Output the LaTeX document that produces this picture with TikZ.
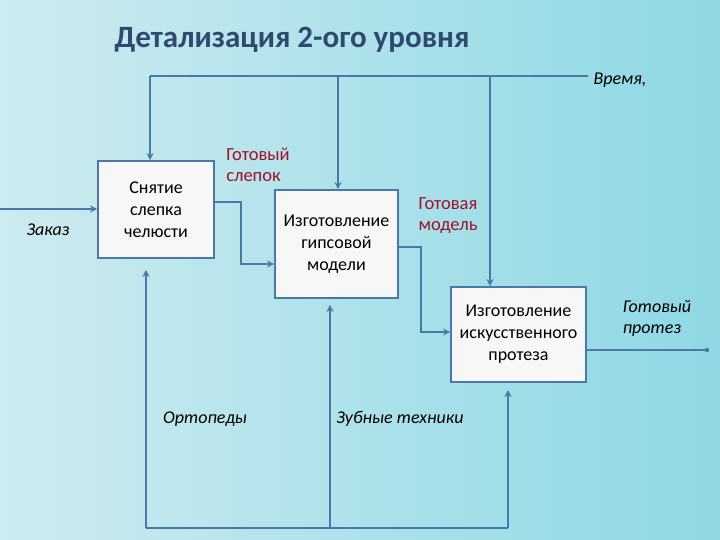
\documentclass[tikz,border=0pt]{standalone}
\usepackage{fontspec}
\setmainfont{Carlito}
\usetikzlibrary{arrows.meta}
\definecolor{ln}{HTML}{4A78A8}
\definecolor{rd}{HTML}{A0102A}
\definecolor{tt}{HTML}{2E4A70}
\definecolor{bgl}{HTML}{CDEBF0}
\definecolor{bgr}{HTML}{8ED8E4}
\begin{document}
\begin{tikzpicture}[x=1pt,y=-1pt,
  box/.style={draw=ln,line width=1.6pt,fill=white!94!gray,align=center,font=\fontsize{18}{22}\selectfont},
  conn/.style={draw=ln,line width=2pt,-{Stealth[length=7pt,width=7pt]}},
  lab/.style={font=\itshape\fontsize{18}{21}\selectfont,align=left},
  rlab/.style={font=\fontsize{18.5}{21}\selectfont,text=rd,align=left}]
\shade[left color=bgl, right color=bgr] (0,0) rectangle (720,540);
\useasboundingbox (0,0) rectangle (720,540);
\node (title) [font=\bfseries\fontsize{31}{36}\selectfont,text=tt] at (292,40) {Детализация 2-ого уровня};
\node (b1) [box,minimum width=116pt,minimum height=97pt] at (156,209.5) {Снятие\\слепка\\челюсти};
\node (b2) [box,minimum width=123pt,minimum height=108pt] at (336.5,244) {Изготовление\\гипсовой\\модели};
\node (b3) [box,minimum width=135pt,minimum height=95pt] at (518.5,334.5) {Изготовление\\искусственного\\протеза};
\coordinate (tl) at (150,76); \coordinate (tr) at (588,76);
\draw[ln,line width=2pt] (tl) -- (tr);
\draw[conn] (tl) -- (b1.north -| tl);
\draw[conn] (338,76) -- (b2.north -| 338,0);
\draw[conn] (490,76) -- (b3.north -| 490,0);
\node[lab] (vr) at (620,80) {Время,};
\coordinate (in) at (0,209);
\draw[conn] (in) -- (b1.west |- in);
\node[lab] (zk) at (48,230) {Заказ};
\draw[conn] (b1.east |- 0,202) -- (241,202) -- (241,264) -- (b2.west |- 0,264);
\draw[conn] (b2.east |- 0,247) -- (421,247) -- (421,332) -- (b3.west |- 0,332);
\node[rlab] (gs) at (258,165) {Готовый\\слепок};
\node[rlab] (gm) at (448,216) {Готовая\\модель};
\coordinate (out) at (707,350);
\draw[ln,line width=2pt] (b3.east |- out) -- (out);
\fill[ln] (out) circle (2.2pt);
\node[lab] (gp) at (657,318) {Готовый\\протез};
\coordinate (bl) at (146,528); \coordinate (br) at (508,528);
\draw[ln,line width=2pt] (bl) -- (br);
\draw[conn] (bl) -- (146,270);
\draw[conn] (330,528) -- (330,305);
\draw[conn] (br) -- (508,390);
\node[lab] (or) at (205,419) {Ортопеды};
\node[lab] (zt) at (400,419) {Зубные техники};
\end{tikzpicture}
\end{document}
